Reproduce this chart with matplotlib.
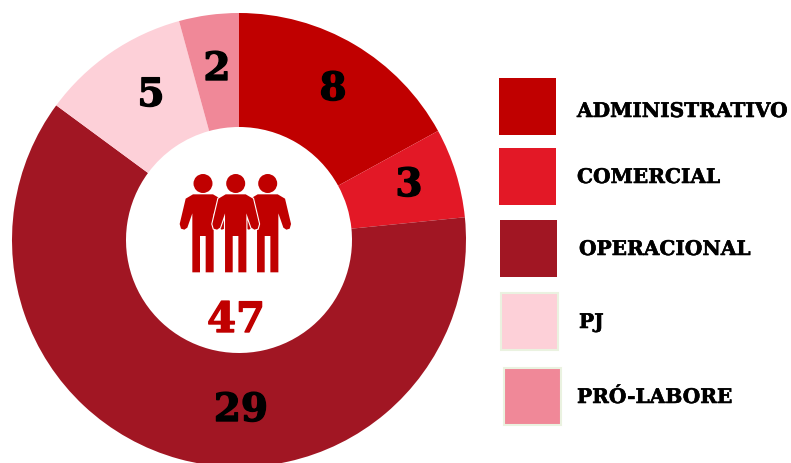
import matplotlib
matplotlib.use("Agg")
import matplotlib.pyplot as plt
import matplotlib.patheffects as pe
from matplotlib.patches import Rectangle, Circle, Polygon

categories = ["ADMINISTRATIVO", "COMERCIAL", "OPERACIONAL", "PJ", "PRÓ-LABORE"]
values = [8, 3, 29, 5, 2]
colors = ["#C00000", "#E31826", "#A11623", "#FDD0D8", "#F08898"]
total = 47

W, H = 791, 463
SERIF = "DejaVu Serif"
ICON = "#C00000"


def py(y):
    # positions
    return H - y


fig = plt.figure(figsize=(W / 100, H / 100), dpi=100)
ax = fig.add_axes([0, 0, 1, 1])
ax.set_xlim(0, W)
ax.set_ylim(0, H)
ax.axis("off")

ax.pie(
    values,
    colors=colors,
    startangle=90,
    counterclock=False,
    center=(239, py(240)),
    radius=227,
    wedgeprops=dict(width=114, linewidth=0),
    frame=True,
)
ax.set_xlim(0, W)
ax.set_ylim(0, H)
ax.set_aspect("auto")
ax.axis("off")

# value labels on the ring
label_pos = [(333, 89), (409, 185), (241, 410), (151, 95), (217, 69)]
for v, (x, y) in zip(values, label_pos):
    ax.text(x, py(y), str(v), ha="center", va="center", family=SERIF,
            fontweight="bold", fontsize=28, color="black",
            path_effects=[pe.withStroke(linewidth=1.0, foreground="black")])

ax.text(236, py(320), str(total), ha="center", va="center", family=SERIF,
        fontweight="bold", fontsize=30, color=ICON,
        path_effects=[pe.withStroke(linewidth=1.0, foreground=ICON)])


# icon with three people
def person(cx, outline=False):
    shape = [(-30, 133), (30, 133), (52, 146), (70, 222), (66, 236), (56, 239),
             (47, 233), (32, 190), (32, 367), (8, 367), (8, 258), (-9, 258),
             (-9, 367), (-32, 367), (-32, 190), (-47, 233), (-56, 239), (-66, 236),
             (-70, 222), (-52, 146)]
    pts = [(cx + px / 3, py(150 + qy / 3)) for px, qy in shape]
    if outline:
        ax.add_patch(Polygon(pts, closed=True, facecolor="white", edgecolor="white",
                             linewidth=1.6, zorder=3))
    ax.add_patch(Polygon(pts, closed=True, facecolor=ICON, edgecolor="none", zorder=3))
    ax.add_patch(Circle((cx, py(183.5)), 9.5, facecolor=ICON, edgecolor="none", zorder=3))


person(203)
person(267.7)
person(235.7, outline=True)

# legend squares and their names
box_left = [499, 499, 500, 500.5, 503.5]
box_top = [78, 148, 220, 292.5, 367.5]
box_size = [57, 57, 57, 57, 57]
box_edge = ["none", "none", "none", "#EAF2E0", "#EAF2E0"]
text_left = [577, 577, 579, 579, 577]
text_y = [111, 177, 249, 322, 397]

for i, name in enumerate(categories):
    s = box_size[i]
    ax.add_patch(Rectangle((box_left[i], py(box_top[i] + s)), s, s, facecolor=colors[i],
                           edgecolor=box_edge[i], linewidth=1.5))
    ax.text(text_left[i], py(text_y[i]), name, ha="left", va="center", family=SERIF,
            fontweight="bold", fontsize=14.5, color="black",
            path_effects=[pe.withStroke(linewidth=0.4, foreground="black")])

fig.savefig("out.png", dpi=100)
